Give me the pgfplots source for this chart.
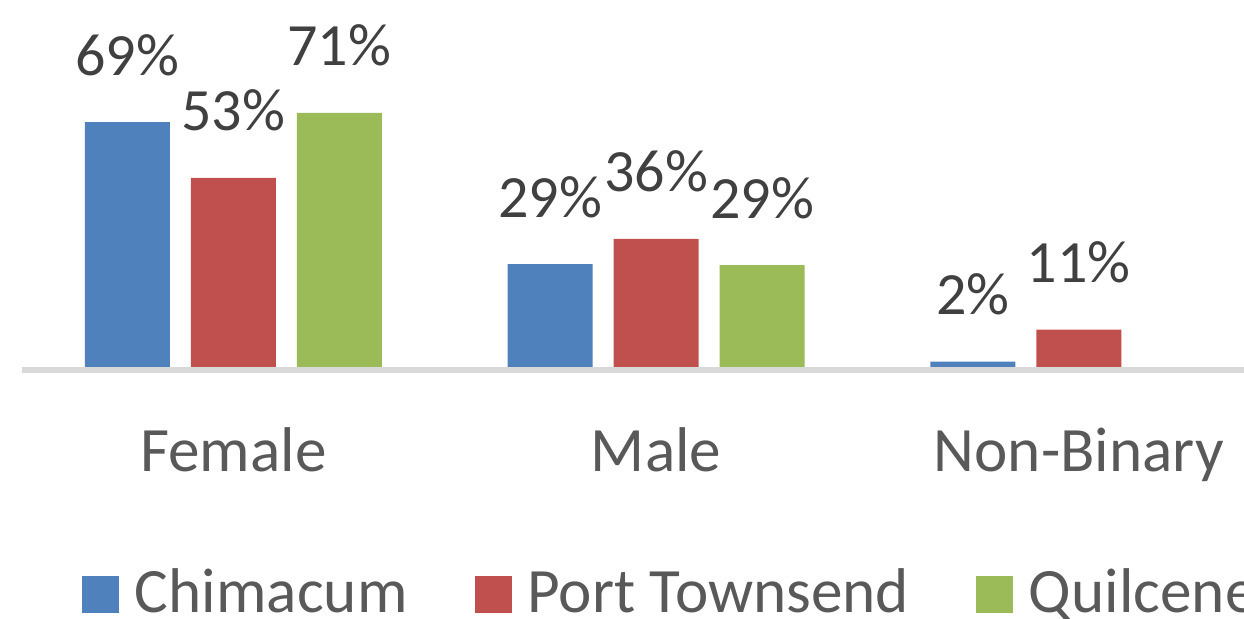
\documentclass[border=0pt]{standalone}
\usepackage{fontspec}
\setmainfont{Carlito}
\usepackage{pgfplots}
\pgfplotsset{compat=1.18}
\definecolor{cblue}{HTML}{4F81BD}
\definecolor{cred}{HTML}{C0504D}
\definecolor{cgreen}{HTML}{9BBB59}
\definecolor{axisgray}{HTML}{D9D9D9}
\definecolor{tickgray}{HTML}{595959}
\definecolor{labgray}{HTML}{404040}
\begin{document}
\begin{tikzpicture}
\useasboundingbox (0,0) rectangle (622pt,309.5pt);
\clip (0,0) rectangle (622pt,309.5pt);
\begin{axis}[
  at={(11pt,124.5pt)}, anchor=south west,
  scale only axis, width=634.1pt, height=179.5pt,
  xmin=-0.5, xmax=2.5, ymin=-0.84, ymax=100,
  ybar=10.5pt, bar width=42.5pt,
  axis y line=none, axis x line*=bottom,
  x axis line style={draw=axisgray, line width=3pt, -},
  axis on top,
  /pgf/number format/assume math mode=true,
  xtick={0,1,2}, xticklabels={Female,Male,Non-Binary},
  xtick style={draw=none}, major tick length=0pt,
  xticklabel style={anchor=base, yshift=-51pt, font=\fontsize{31.6}{31.6}\selectfont, text=tickgray},
  nodes near coords={\pgfmathprintnumber[fixed,precision=0,assume math mode=true]{\pgfplotspointmeta}\%},
  every node near coord/.append style={anchor=base, yshift=23.5pt, font=\fontsize{30}{30}\selectfont, text=labgray},
  legend columns=3,
  legend style={at={(0.0473,-0.6769)}, anchor=south west, draw=none, fill=none,
    inner sep=0pt, outer sep=0pt,
    cells={anchor=base west},
    nodes={inner sep=0pt, text depth=0pt, font=\fontsize{31.6}{31.6}\selectfont, text=tickgray},
    /tikz/every odd column/.append style={column sep=8pt},
    /tikz/every even column/.append style={column sep=33.5pt}},
]
\addplot[fill=cblue, draw=none, legend image code/.code={\fill[cblue] (0pt,0pt) rectangle (18.5pt,18.5pt);}] coordinates {(0,68.8) (1,28.9) (2,1.5)};
\addplot[fill=cred, draw=none, legend image code/.code={\fill[cred] (0pt,0pt) rectangle (18.5pt,18.5pt);}] coordinates {(0,53.1) (1,36.0) (2,10.5)};
\addplot[fill=cgreen, draw=none, legend image code/.code={\fill[cgreen] (0pt,0pt) rectangle (18.5pt,18.5pt);}] coordinates {(0,71.4) (1,28.6)};
\legend{Chimacum, Port Townsend, Quilcene}
\end{axis}
\end{tikzpicture}
\end{document}
